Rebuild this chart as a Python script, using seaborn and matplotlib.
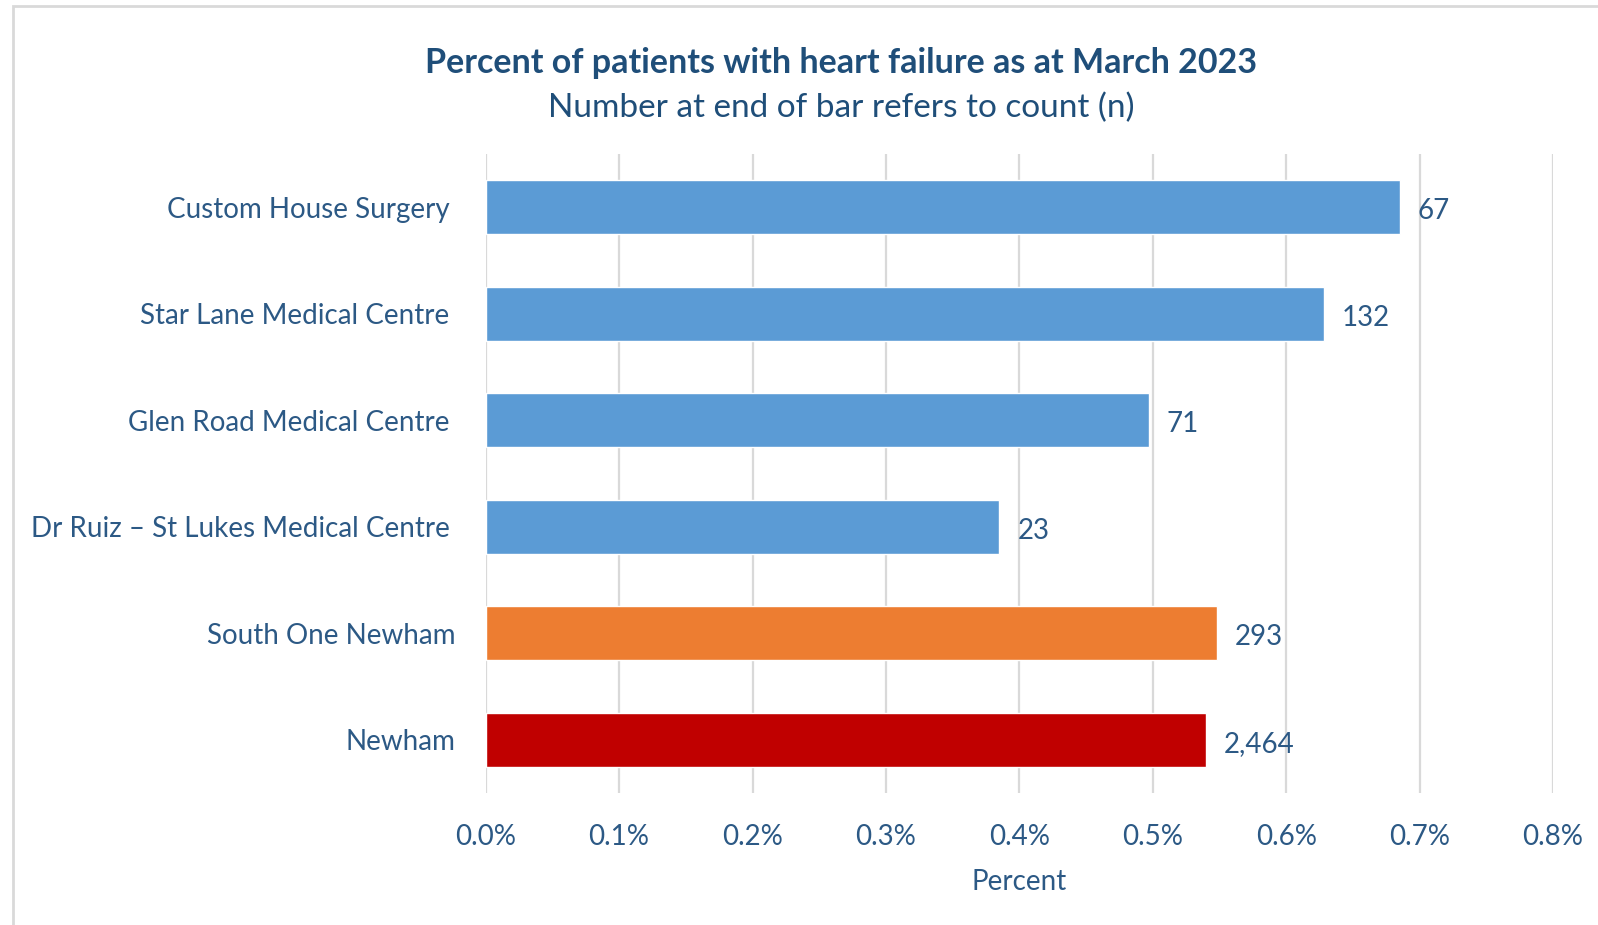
import matplotlib
matplotlib.use("Agg")
import matplotlib.pyplot as plt
import matplotlib.transforms as mtransforms
import seaborn as sns
import pandas as pd
from matplotlib.ticker import FuncFormatter, MultipleLocator
from matplotlib.patches import Rectangle

categories = ["Custom House Surgery", "Star Lane Medical Centre", "Glen Road Medical Centre",
              "Dr Ruiz \u2013 St Lukes Medical Centre", "South One Newham", "Newham"]
percent = [0.685, 0.628, 0.497, 0.385, 0.548, 0.540]
counts = ["67", "132", "71", "23", "293", "2,464"]
colors = ["#5B9BD5", "#5B9BD5", "#5B9BD5", "#5B9BD5", "#ED7D31", "#C00000"]

title = "Percent of patients with heart failure as at March 2023"
subtitle = "Number at end of bar refers to count (n)"
xlabel = "Percent"

sns.set_theme(style="white")
plt.rcParams["font.family"] = ["Lato", "DejaVu Sans"]
txt = "#2C5985"
ttl = "#1F4E79"

df = pd.DataFrame({"cat": categories, "pct": percent})

W, H = 1598, 925
fig = plt.figure(figsize=(W / 100, H / 100), dpi=100)
ax = fig.add_axes([485.7 / W, 1 - 793 / H, (1553 - 485.7) / W, (793 - 154) / H])

sns.barplot(data=df, x="pct", y="cat", hue="cat", palette=colors, legend=False,
            width=0.51, ax=ax, orient="h", saturation=1)

ax.set_xlim(0, 0.8)
ax.xaxis.set_major_locator(MultipleLocator(0.1))
ax.xaxis.set_major_formatter(FuncFormatter(lambda v, p: f"{v:.1f}%"))
ax.grid(axis="x", color="#D9D9D9", linewidth=1.6)
ax.set_axisbelow(True)
for s in ax.spines.values():
    s.set_visible(False)
ax.tick_params(axis="both", length=0, colors=txt, labelsize=20)
ax.tick_params(axis="y", pad=26)
ax.tick_params(axis="x", pad=22)
ax.set_ylabel("")
ax.set_xlabel(xlabel, color=txt, fontsize=20, labelpad=14)

shift = mtransforms.ScaledTranslation(6 / 100, 0, fig.dpi_scale_trans)
for lbl in ax.get_yticklabels()[4:]:
    lbl.set_transform(lbl.get_transform() + shift)

for i, (v, c) in enumerate(zip(percent, counts)):
    ax.annotate(c, xy=(v, i), xytext=(13, -3), textcoords="offset points",
                va="center", ha="left", fontsize=20, color=txt)

fig.text(841 / W, 1 - 63 / H, title, ha="center", va="center", fontsize=24.5,
         fontweight="bold", color=ttl)
fig.text(841 / W, 1 - 108 / H, subtitle, ha="center", va="center", fontsize=24,
         color=ttl)

fig.patches.append(Rectangle((13 / W, -0.1), 1.2, 1.1 - 6 / H, transform=fig.transFigure,
                             fill=False, edgecolor="#D9D9D9", linewidth=2))

fig.savefig("out.png", dpi=100)
